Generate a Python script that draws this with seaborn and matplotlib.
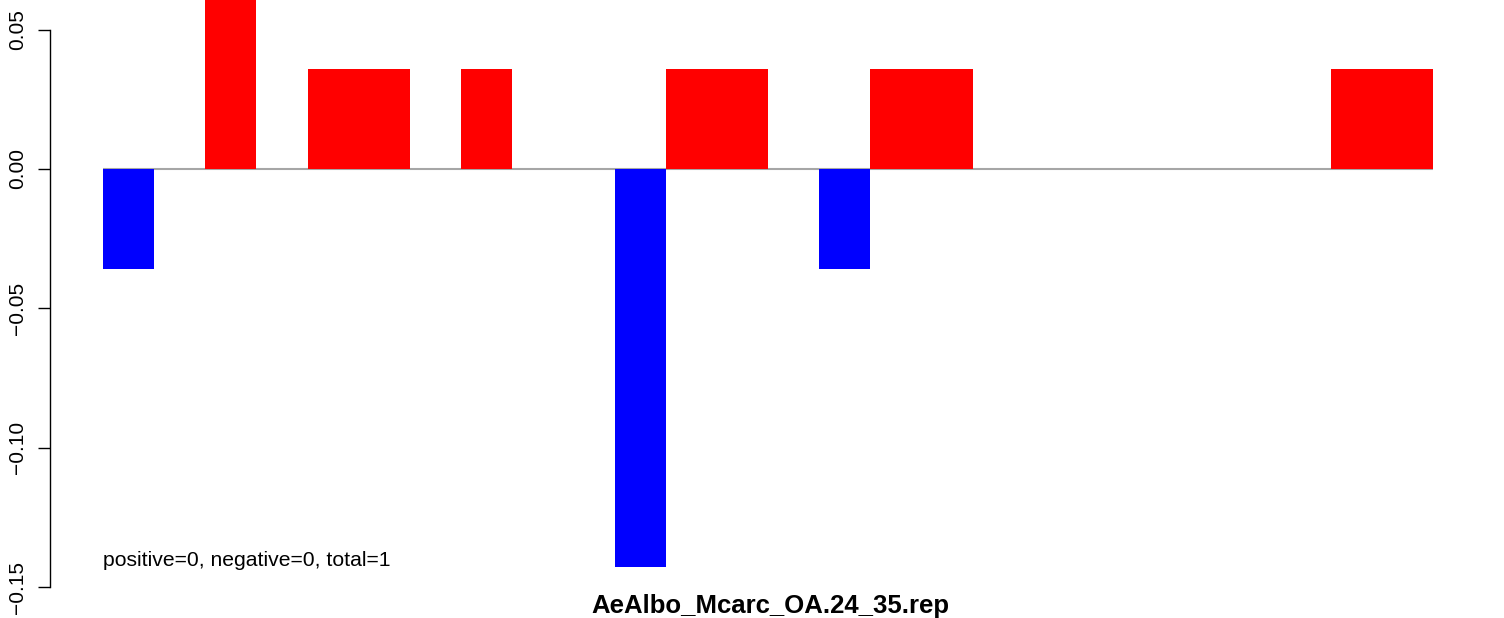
import numpy as np
import pandas as pd
import matplotlib
matplotlib.use("Agg")
import matplotlib.pyplot as plt
import seaborn as sns

# one bar per window, no gaps between bars
windows = [str(i) for i in range(1, 27)]
scores = [-0.036, 0.0, 0.071, 0.0, 0.036, 0.036, 0.0, 0.036, 0.0, 0.0,
          -0.143, 0.036, 0.036, 0.0, -0.036, 0.036, 0.036, 0.0, 0.0, 0.0,
          0.0, 0.0, 0.0, 0.0, 0.036, 0.036]
yticks = [-0.15, -0.10, -0.05, 0.00, 0.05]
ytick_labels = ["\u22120.15", "\u22120.10", "\u22120.05", "0.00", "0.05"]
title = "AeAlbo_Mcarc_OA.24_35.rep"
note = "positive=0, negative=0, total=1"

sns.set_style("white")
plt.rcParams['font.family'] = ['Liberation Sans', 'DejaVu Sans']
plt.rcParams['text.color'] = 'black'
plt.rcParams['ytick.color'] = 'black'

df = pd.DataFrame({"window": windows, "score": scores})
df["sign"] = np.where(df["score"] < 0, "neg", "pos")

fig = plt.figure(figsize=(15.04, 6.18), dpi=100)
W, H = 1504, 618
ax = fig.add_axes([50 / W, 0, 1 - 50 / W, 1])

sns.barplot(data=df, x="window", y="score", hue="sign", order=windows,
            palette={"pos": "#ff0000", "neg": "#0000ff"}, dodge=False,
            width=1.0, errorbar=None, legend=False, linewidth=0,
            saturation=1, ax=ax, zorder=2)

ax.hlines(0, -0.5, len(windows) - 0.5, color="#a6a6a6", lw=1.5, zorder=1)

# pixel layout of the original: first slot starts at 103 px, slot width 51.15 px
slot = (1433 - 103) / len(windows)
x0 = 103 + slot / 2
ax.set_xlim(-(x0 - 50) / slot, (W - x0) / slot)
ppu = (587 - 169) / 0.15
ax.set_ylim(-(H - 169) / ppu, 169 / ppu)

for s in ["top", "right", "bottom"]:
    ax.spines[s].set_visible(False)
ax.spines["left"].set_bounds(-0.15, 0.05)
ax.spines["left"].set_linewidth(1.0)
ax.spines["left"].set_color("black")
ax.set_xticks([])
ax.set_xlabel("")
ax.set_ylabel("")
ax.set_yticks(yticks)
ax.set_yticklabels(ytick_labels, rotation=90, va="center", fontsize=15,
                   color="black")
ax.tick_params(axis="y", left=True, length=8.6, width=1.0, pad=8, color="black")

ax.text(-(x0 - 103) / slot, -(561 - 169) / ppu, note, fontsize=15.2,
        ha="left", va="center", color="black")
fig.text(770 / W, 1 - 606 / H, title, fontsize=18.5, fontweight="bold",
         ha="center", va="center", color="black")

fig.savefig("out.png", dpi=100)
